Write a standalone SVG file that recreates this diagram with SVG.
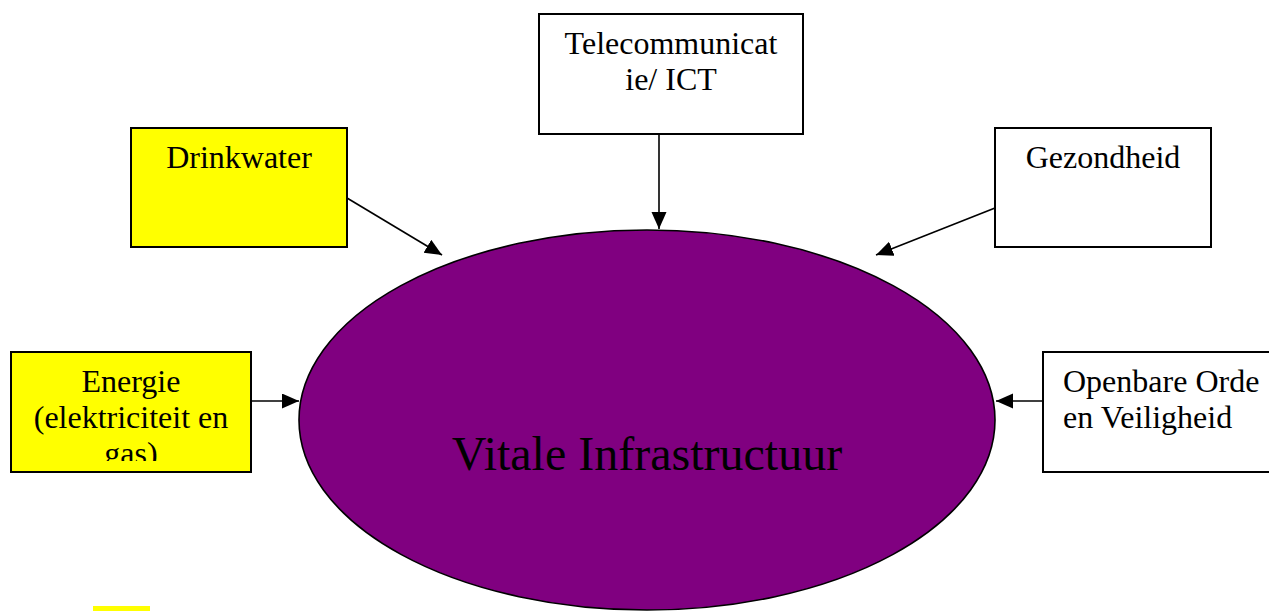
<svg xmlns="http://www.w3.org/2000/svg" width="1269" height="611" viewBox="0 0 1269 611">
<style>
.box{stroke:#000;stroke-width:2}
.yellow{fill:#ffff00}
.white{fill:#fff}
.t{font-family:"Liberation Serif","Times New Roman",serif;font-size:32px;fill:#000}
.c{text-anchor:middle}
.conn line{stroke:#000;stroke-width:1.6;fill:none}
</style>
<defs>
<marker id="ah" markerUnits="userSpaceOnUse" markerWidth="18" markerHeight="16" refX="17" refY="7.5" orient="auto">
<path d="M0,0 L17,7.5 L0,15 z" fill="#000"/>
</marker>
<clipPath id="clipE"><rect x="11" y="352" width="240" height="109"/></clipPath>
</defs>
<rect width="1269" height="611" fill="#fff"/>
<g id="center">
<ellipse cx="647" cy="420" rx="348" ry="190" fill="#800080" stroke="#000" stroke-width="1.6"/>
<text class="t c" x="647" y="470" style="font-size:48px">Vitale Infrastructuur</text>
</g>
<g class="conn" id="connectors">
<line x1="659" y1="134" x2="659" y2="229" marker-end="url(#ah)"/>
<line x1="347" y1="198" x2="442" y2="255" marker-end="url(#ah)"/>
<line x1="995" y1="208" x2="876" y2="255" marker-end="url(#ah)"/>
<line x1="251" y1="401" x2="299" y2="401" marker-end="url(#ah)"/>
<line x1="1043" y1="401" x2="996" y2="401" marker-end="url(#ah)"/>
</g>
<g id="telecom">
<rect class="box white" x="539" y="14" width="264" height="120"/>
<text class="t c" x="671" y="54">Telecommunicat</text>
<text class="t c" x="671" y="90">ie/ ICT</text>
</g>
<g id="drinkwater">
<rect class="box yellow" x="131" y="128" width="216" height="119"/>
<text class="t c" x="239" y="168">Drinkwater</text>
</g>
<g id="gezondheid">
<rect class="box white" x="995" y="128" width="216" height="119"/>
<text class="t c" x="1103" y="168">Gezondheid</text>
</g>
<g id="energie">
<rect class="box yellow" x="11" y="352" width="240" height="120"/>
<g clip-path="url(#clipE)">
<text class="t c" x="131" y="392">Energie</text>
<text class="t c" x="131" y="428">(elektriciteit en</text>
<text class="t c" x="131" y="464">gas)</text>
</g>
</g>
<g id="openbare">
<rect class="box white" x="1043" y="352" width="240" height="120"/>
<text class="t" x="1063" y="392">Openbare Orde</text>
<text class="t" x="1063" y="428">en Veiligheid</text>
</g>
<rect id="marker-yellow" x="93" y="606" width="57" height="6" fill="#ffff00"/>
</svg>
